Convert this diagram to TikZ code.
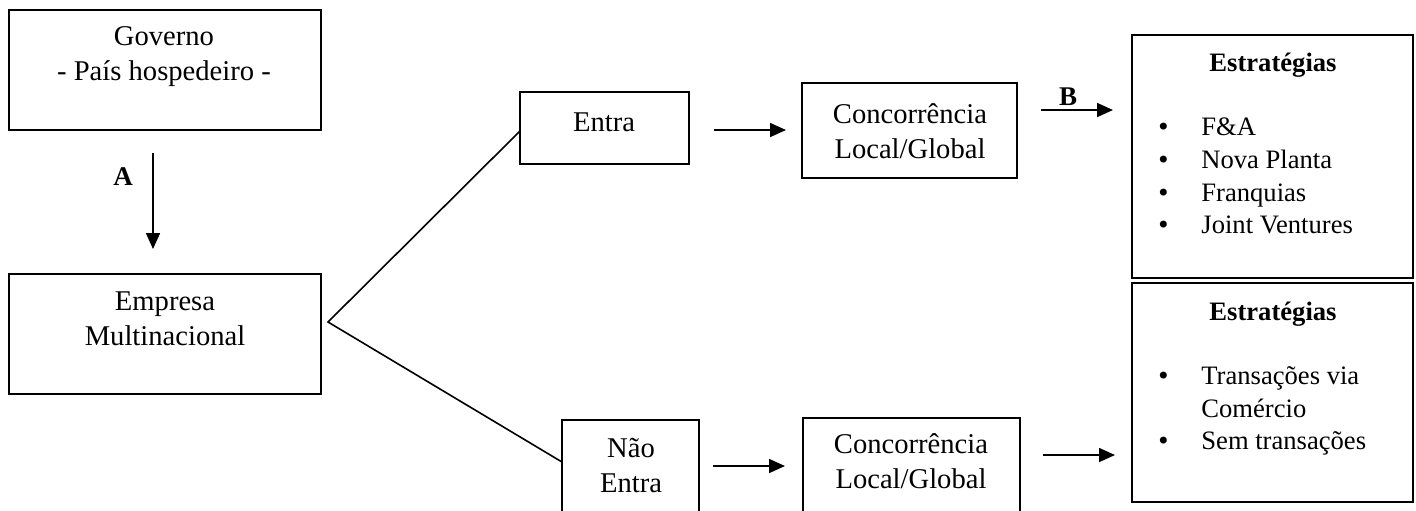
\documentclass[tikz,border=0pt]{standalone}
\usepackage{fontspec}
\setmainfont{Liberation Serif}
\newfontfamily\dejavu{DejaVu Sans}
\usetikzlibrary{arrows.meta,calc}
\newcommand{\blt}{\makebox[22.5pt][l]{{\dejavu\fontsize{12}{14}\selectfont •}}}
\begin{document}
\begin{tikzpicture}[x=0.5pt,y=-0.5pt,
  box/.style={draw,line width=1pt,inner sep=0pt,outer sep=0pt},
  txt/.style={align=center,inner sep=0pt,font=\fontsize{14.3}{17.5}\selectfont},
  lst/.style={align=left,inner sep=0pt,font=\fontsize{13.3}{16.4}\selectfont},
  ttl/.style={inner sep=0pt,font=\bfseries\fontsize{13.3}{16}\selectfont},
  lab/.style={inner sep=0pt,font=\bfseries\fontsize{13.5}{15}\selectfont},
  arr/.style={line width=0.8pt,-{Triangle[length=8pt,width=7pt]}},
  ln/.style={line width=0.8pt}]
\useasboundingbox (0,0) rectangle (1416,510);
\clip (0,0) rectangle (1416,510);
% boxes
\node[box,minimum width=156pt,minimum height=60pt] (gov) at (165,70) {};
\node[txt] (govt) at (164,57) {Governo\\- País hospedeiro -};
\node[box,minimum width=156pt,minimum height=60pt] (emp) at (165,334) {};
\node[txt] (empt) at (165,319) {Empresa\\Multinacional};
\node[box,minimum width=84.5pt,minimum height=36pt] (entra) at (604.5,128) {};
\node[txt] (entrat) at (604,122) {Entra};
\node[box,minimum width=107.5pt,minimum height=47.5pt] (conc1) at (909.5,130.5) {};
\node[txt] (conc1t) at (910,131.5) {Concorrência\\Local/Global};
\node[box,minimum width=68.5pt,minimum height=50pt] (nao) at (630.5,470) {};
\node[txt] (naot) at (631,465) {Não\\Entra};
\node[box,minimum width=108.5pt,minimum height=51pt] (conc2) at (911.5,469) {};
\node[txt] (conc2t) at (911,461.5) {Concorrência\\Local/Global};
\node[box,minimum width=140.5pt,minimum height=121.5pt] (s1) at (1272.5,156.5) {};
\node[ttl] (s1t) at (1273,65) {Estratégias};
\node[lst,anchor=west] (s1l) at (1156,176) {\blt F\&A\\
\blt Nova Planta\\
\blt Franquias\\
\blt Joint Ventures};
\node[box,minimum width=140.5pt,minimum height=109.5pt] (s2) at (1272.5,392.5) {};
\node[ttl] (s2t) at (1273,314) {Estratégias};
\node[lst,anchor=west] (s2l) at (1156,411) {\blt Transações via\\
\hspace*{22.5pt}Comércio\\
\blt Sem transações};
% connectors
\draw[arr,shorten <=11.5pt,shorten >=12.5pt] ([xshift=-6pt]gov.south) -- ([xshift=-6pt]emp.north);
\node[lab] (la) at (123,177) {A};
\coordinate (br) at ([xshift=3.5pt,yshift=6pt]emp.east);
\draw[ln] ([yshift=-1.5pt]entra.west) -- (br) -- ([yshift=4pt]nao.west);
\draw[arr,shorten <=12.5pt,shorten >=8pt] ([yshift=-1pt]entra.east) -- ([yshift=-1pt]entra.east -| conc1.west);
\draw[arr,shorten <=12pt,shorten >=9.5pt] ([yshift=10.25pt]conc1.east) -- ([yshift=10.25pt]conc1.east -| s1.west);
\node[lab] (lb) at (1068,97) {B};
\draw[arr,shorten <=7pt,shorten >=9pt] ([yshift=2pt]nao.east) -- ([yshift=2pt]nao.east -| conc2.west);
\draw[arr,shorten <=11.5pt,shorten >=8.5pt] ([yshift=7pt]conc2.east) -- ([yshift=7pt]conc2.east -| s2.west);
\end{tikzpicture}
\end{document}
